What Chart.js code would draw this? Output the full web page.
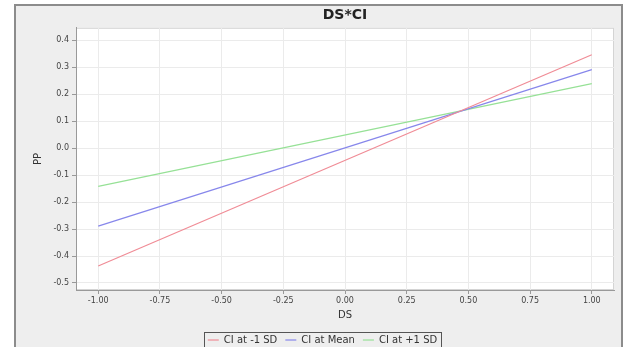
<!DOCTYPE html>
<html>
<head>
<meta charset="utf-8">
<script src="https://cdn.jsdelivr.net/npm/chart.js@4/dist/chart.umd.min.js"></script>
<style>
html,body{margin:0;padding:0;background:#ffffff;}
#wrap{width:625px;height:347px;position:relative;overflow:hidden;}
</style>
</head>
<body>
<div id="wrap"><canvas id="c" width="625" height="347"></canvas></div>
<script>
// ---- data ----
const chartTitle = 'DS*CI';
const xAxisTitle = 'DS';
const yAxisTitle = 'PP';
const seriesNames = ['CI at -1 SD', 'CI at Mean', 'CI at +1 SD'];
const dsValues = [-1.0, 1.0];
const ppAtMinus1SD = [-0.437, 0.346];
const ppAtMean = [-0.289, 0.291];
const ppAtPlus1SD = [-0.142, 0.239];
const xTickValues = [-1.0, -0.75, -0.5, -0.25, 0.0, 0.25, 0.5, 0.75, 1.0];
const yTickValues = [-0.5, -0.4, -0.3, -0.2, -0.1, 0.0, 0.1, 0.2, 0.3, 0.4];

const seriesColors = ['rgb(240,140,150)', 'rgb(135,135,235)', 'rgb(150,225,150)'];
const seriesValues = [ppAtMinus1SD, ppAtMean, ppAtPlus1SD];

const datasets = seriesNames.map((name, i) => ({
  label: name,
  data: dsValues.map((x, j) => ({x: x, y: seriesValues[i][j]})),
  showLine: true,
  borderColor: seriesColors[i],
  backgroundColor: seriesColors[i],
  borderWidth: 1.2,
  pointRadius: 0,
  pointHoverRadius: 0,
  fill: false
}));

const framePlugin = {
  id: 'framePlugin',
  beforeDraw(chart) {
    const ctx = chart.ctx;
    const a = chart.chartArea;
    ctx.save();
    ctx.fillStyle = '#ffffff';
    ctx.fillRect(0, 0, chart.width, chart.height);
    ctx.fillStyle = '#eeeeee';
    ctx.fillRect(16, 6, 605, chart.height - 6);
    ctx.strokeStyle = '#8c8c8c';
    ctx.lineWidth = 2;
    ctx.beginPath();
    ctx.moveTo(15, chart.height);
    ctx.lineTo(15, 5);
    ctx.lineTo(622, 5);
    ctx.lineTo(622, chart.height);
    ctx.stroke();
    ctx.fillStyle = '#ffffff';
    ctx.fillRect(a.left, a.top, a.right - a.left, a.bottom - a.top);
    ctx.strokeStyle = '#d4d4d4';
    ctx.lineWidth = 1;
    ctx.strokeRect(a.left + 0.5, a.top + 0.5, a.right - a.left - 1, a.bottom - a.top - 1);
    ctx.restore();
  },
  afterDraw(chart) {
    const lg = chart.legend;
    if (!lg || !lg.legendHitBoxes || !lg.legendHitBoxes.length) return;
    const hb = lg.legendHitBoxes;
    const first = hb[0], last = hb[hb.length - 1];
    const ctx = chart.ctx;
    ctx.save();
    ctx.strokeStyle = '#555555';
    ctx.lineWidth = 1;
    const l = Math.round(first.left - 4) + 0.5;
    const r = Math.round(last.left + last.width + 4) + 0.5;
    const t = Math.round(first.top - 3) + 0.5;
    ctx.strokeRect(l, t, r - l, chart.height + 5 - t);
    ctx.restore();
  }
};

new Chart(document.getElementById('c'), {
  type: 'scatter',
  data: {datasets: datasets},
  plugins: [framePlugin],
  options: {
    responsive: false,
    animation: false,
    devicePixelRatio: 1,
    layout: {padding: {left: 20, right: 0, top: 0, bottom: -8}},
    plugins: {
      title: {
        display: true,
        text: chartTitle,
        fullSize: false,
        color: '#222222',
        font: {family: 'DejaVu Sans', size: 14, weight: 'bold'},
        padding: {top: 7, bottom: 4}
      },
      legend: {
        display: true,
        position: 'bottom',
        labels: {
          usePointStyle: true,
          pointStyle: 'line',
          pointStyleWidth: 11,
          padding: 8,
          color: '#333333',
          font: {family: 'DejaVu Sans', size: 10}
        }
      },
      tooltip: {enabled: false}
    },
    scales: {
      x: {
        type: 'linear',
        min: -1.09,
        max: 1.09,
        afterBuildTicks: s => { s.ticks = xTickValues.map(v => ({value: v})); },
        afterFit: s => { s.height = 37; },
        ticks: {
          color: '#444444',
          font: {family: 'DejaVu Sans', size: 8},
          padding: 2,
          maxRotation: 0,
          autoSkip: false,
          callback: v => Number(v).toFixed(2)
        },
        grid: {color: '#ebebeb', tickColor: '#999999', tickLength: 4, drawTicks: true},
        border: {display: true, color: '#999999'},
        title: {
          display: true,
          text: xAxisTitle,
          color: '#333333',
          font: {family: 'DejaVu Sans', size: 10},
          padding: {top: 0, bottom: 6}
        }
      },
      y: {
        type: 'linear',
        position: 'left',
        min: -0.526,
        max: 0.446,
        afterBuildTicks: s => { s.ticks = yTickValues.map(v => ({value: v})); },
        afterFit: s => { s.width = 56; },
        ticks: {
          color: '#444444',
          font: {family: 'DejaVu Sans', size: 8},
          padding: 3,
          autoSkip: false,
          callback: v => Number(v).toFixed(1)
        },
        grid: {color: '#ebebeb', tickColor: '#999999', tickLength: 4, drawTicks: true},
        border: {display: true, color: '#999999'},
        title: {
          display: true,
          text: yAxisTitle,
          color: '#333333',
          font: {family: 'DejaVu Sans', size: 10},
          padding: {top: 12, bottom: 0}
        }
      },
      y2: {
        type: 'linear',
        position: 'right',
        display: true,
        afterFit: s => { s.width = 11; },
        ticks: {display: false},
        grid: {display: false, drawTicks: false},
        border: {display: false}
      }
    }
  }
});
</script>
</body>
</html>
